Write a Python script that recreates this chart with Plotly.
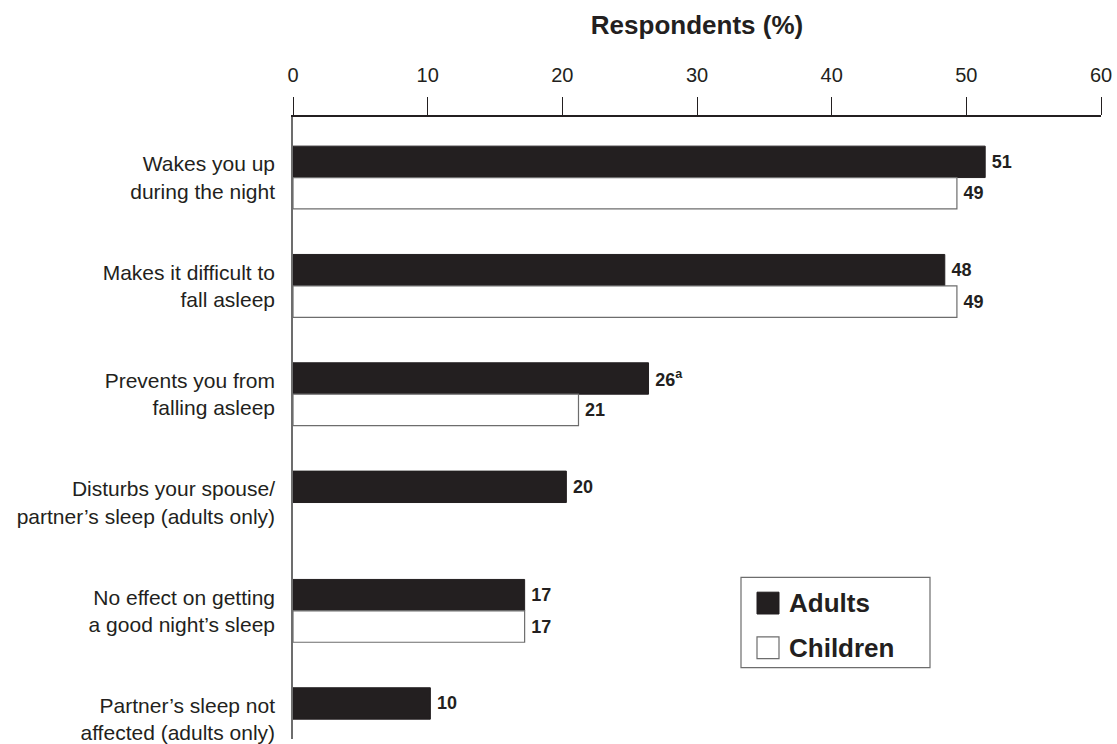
import plotly.graph_objects as go

categories = [
    "Wakes you up<br>during the night",
    "Makes it difficult to<br>fall asleep",
    "Prevents you from<br>falling asleep",
    "Disturbs your spouse/<br>partner’s sleep (adults only)",
    "No effect on getting<br>a good night’s sleep",
    "Partner’s sleep not<br>affected (adults only)",
]
adults = [51.4, 48.4, 26.4, 20.3, 17.2, 10.2]
children = [49.3, 49.3, 21.2, None, 17.2, None]
adult_labels = ["51", "48", "26<sup>a</sup>", "20", "17", "10"]
child_labels = ["49", "49", "21", None, "17", None]
x_ticks = [0, 10, 20, 30, 40, 50, 60]
series_names = ["Adults", "Children"]

DARK = "#231f20"
GRAY = "#6d6d6d"
FONT = "Liberation Sans, Arial, Helvetica, sans-serif"

W, H = 1117, 744
ML, MR, MT, MB = 293, 16, 117, 0
PW, PH = W - ML - MR, H - MT - MB


def px(xp):
    return (xp - ML) / PW


def py(yp):
    return (H - MB - yp) / PH


fig = go.Figure()
fig.add_trace(go.Bar(
    name=series_names[0], y=categories, x=adults, orientation="h",
    marker=dict(color=DARK, line=dict(color=DARK, width=1)),
    text=adult_labels, texttemplate="\u2009%{text}",
    textposition="outside", cliponaxis=False,
    textfont=dict(family=FONT, size=18, color=DARK, weight="bold"),
))
fig.add_trace(go.Bar(
    name=series_names[1], y=categories, x=children, orientation="h",
    marker=dict(color="white", line=dict(color=GRAY, width=1.2)),
    text=child_labels, texttemplate="\u2009%{text}",
    textposition="outside", cliponaxis=False,
    textfont=dict(family=FONT, size=18, color=DARK, weight="bold"),
))

# Legend drawn as box with swatches
shapes = [
    dict(type="rect", xref="paper", yref="paper",
         x0=px(741), x1=px(930), y0=py(672), y1=py(581),
         line=dict(color=GRAY, width=1.2), fillcolor="white", layer="above"),
    dict(type="rect", xref="paper", yref="paper",
         x0=px(757), x1=px(779), y0=py(618), y1=py(596),
         line=dict(color=DARK, width=1), fillcolor=DARK, layer="above"),
    dict(type="rect", xref="paper", yref="paper",
         x0=px(757), x1=px(779), y0=py(663), y1=py(641),
         line=dict(color=GRAY, width=1.2), fillcolor="white", layer="above"),
]
annotations = [
    dict(text="<b>%s</b>" % series_names[0], xref="paper", yref="paper",
         x=px(787), y=py(607), xanchor="left", yanchor="middle", showarrow=False,
         font=dict(family=FONT, size=26, color=DARK)),
    dict(text="<b>%s</b>" % series_names[1], xref="paper", yref="paper",
         x=px(787), y=py(652), xanchor="left", yanchor="middle", showarrow=False,
         font=dict(family=FONT, size=26, color=DARK)),
]

fig.update_layout(
    width=W, height=H,
    margin=dict(l=ML, r=MR, t=MT, b=MB),
    paper_bgcolor="white", plot_bgcolor="white",
    barmode="group", bargap=0.42, bargroupgap=0,
    font=dict(family=FONT, size=16, color=DARK),
    showlegend=False,
    shapes=shapes,
    annotations=annotations,
    xaxis=dict(
        side="top", range=[0, 60], tickvals=x_ticks,
        showgrid=False, zeroline=False,
        showline=True, linecolor=DARK, linewidth=1.5,
        ticks="outside", ticklen=18, tickwidth=1.2, tickcolor=DARK,
        ticklabelstandoff=7,
        tickfont=dict(family=FONT, size=20, color=DARK),
        title=dict(text="<b>Respondents (%)</b>", font=dict(family=FONT, size=26, color=DARK), standoff=22),
    ),
    yaxis=dict(
        range=[5.183, -0.559], showgrid=False, zeroline=False,
        showline=True, linecolor=GRAY, linewidth=1.5,
        ticks="", ticklabelstandoff=12,
        tickfont=dict(family=FONT, size=21, color=DARK),
    ),
)

fig.write_html(
    "out.html",
    config={"displayModeBar": False},
    post_script="document.body.style.margin='0';document.body.style.overflow='hidden';",
)
